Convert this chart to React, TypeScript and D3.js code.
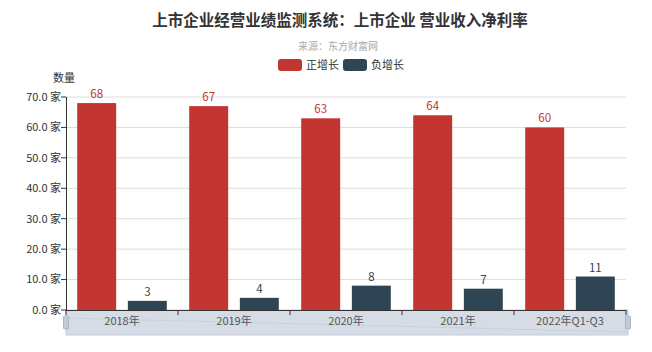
import { useEffect, useRef } from 'react';
import * as d3 from 'd3';

const categories = ['2018年', '2019年', '2020年', '2021年', '2022年Q1-Q3'];
const positive = [68, 67, 63, 64, 60];
const negative = [3, 4, 8, 7, 11];
const yTicks = [0, 10, 20, 30, 40, 50, 60, 70];
const seriesNames = ['正增长', '负增长'];

const colors = ['#c23531', '#2f4554'];
const font = '"Microsoft YaHei", "Noto Sans CJK SC", sans-serif';

const App = () => {
  const ref = useRef<SVGSVGElement>(null);

  useEffect(() => {
    if (!ref.current) return;
    const svg = d3.select(ref.current);
    svg.selectAll('*').remove();

    const width = 652;
    const left = 66;
    const right = 626;
    const top = 97;
    const bottom = 310;

    const x = d3.scaleBand<string>().domain(categories).range([left, right]).paddingInner(0).paddingOuter(0);
    const y = d3.scaleLinear().domain([0, 70]).range([bottom, top]);
    const bw = x.bandwidth();
    // echarts style: 20% category gap, 30% bar gap
    const barW = (bw * 0.8) / 2.3;
    const gap = barW * 0.3;

    // title
    svg.append('text')
      .attr('x', width / 2 + 14)
      .attr('y', 26)
      .attr('text-anchor', 'middle')
      .style('font-family', font)
      .style('font-size', '15.5px')
      .style('font-weight', 'bold')
      .style('fill', '#333')
      .text('上市企业经营业绩监测系统：上市企业 营业收入净利率');
    svg.append('text')
      .attr('x', width / 2 + 12)
      .attr('y', 50)
      .attr('text-anchor', 'middle')
      .style('font-family', font)
      .style('font-size', '10px')
      .style('fill', '#aaa')
      .text('来源：东方财富网');

    // legend
    const legend = svg.selectAll('.legend')
      .data(seriesNames)
      .enter()
      .append('g')
      .attr('transform', (d, i) => `translate(${278 + i * 65}, 59)`);
    legend.append('rect')
      .attr('width', 24)
      .attr('height', 12)
      .attr('rx', 3)
      .attr('fill', (d, i) => colors[i]);
    legend.append('text')
      .attr('x', 28)
      .attr('y', 10)
      .style('font-family', font)
      .style('font-size', '11px')
      .style('fill', '#333')
      .text(d => d);

    // grid
    svg.selectAll('line.grid')
      .data(yTicks.slice(1))
      .enter()
      .append('line')
      .attr('x1', left)
      .attr('x2', right)
      .attr('y1', d => y(d))
      .attr('y2', d => y(d))
      .attr('stroke', '#ddd')
      .attr('stroke-width', 1);

    // data zoom slider background
    svg.append('rect')
      .attr('x', left)
      .attr('y', bottom)
      .attr('width', right - left + 2)
      .attr('height', 25)
      .attr('fill', '#d5dce6')
      .attr('stroke', '#c6cdd8');
    svg.append('path')
      .attr('d', `M${left},${bottom + 8} L${right + 2},${bottom + 22}`)
      .attr('stroke', '#c9d1dc')
      .attr('fill', 'none');
    [left, right + 2].forEach(hx => {
      svg.append('rect')
        .attr('x', hx - 2.5)
        .attr('y', bottom + 6)
        .attr('width', 5)
        .attr('height', 13)
        .attr('rx', 1)
        .attr('fill', '#c0cbd8')
        .attr('stroke', '#a7b7cc');
    });

    // y axis
    svg.append('line')
      .attr('x1', left + 0.5)
      .attr('x2', left + 0.5)
      .attr('y1', top)
      .attr('y2', bottom)
      .attr('stroke', '#333');
    const yt = svg.selectAll('g.ytick')
      .data(yTicks)
      .enter()
      .append('g')
      .attr('transform', d => `translate(0, ${y(d)})`);
    yt.append('line')
      .attr('x1', left - 5)
      .attr('x2', left)
      .attr('stroke', '#333');
    yt.append('text')
      .attr('x', left - 5)
      .attr('dy', '0.35em')
      .attr('text-anchor', 'end')
      .style('font-family', font)
      .style('font-size', '11px')
      .style('fill', '#333')
      .text(d => `${d.toFixed(1)}\u00a0家`);
    svg.append('text')
      .attr('x', 64)
      .attr('y', 82)
      .attr('text-anchor', 'middle')
      .style('font-family', font)
      .style('font-size', '11px')
      .style('fill', '#333')
      .text('数量');

    // bars
    const series = [positive, negative];
    series.forEach((vals, si) => {
      const off = bw * 0.1 + si * (barW + gap);
      svg.selectAll(`rect.s${si}`)
        .data(vals)
        .enter()
        .append('rect')
        .attr('x', (d, i) => (x(categories[i]) as number) + off)
        .attr('y', d => y(d))
        .attr('width', barW)
        .attr('height', d => bottom - y(d))
        .attr('fill', colors[si]);
      svg.selectAll(`text.s${si}`)
        .data(vals)
        .enter()
        .append('text')
        .attr('x', (d, i) => (x(categories[i]) as number) + off + barW / 2)
        .attr('y', d => y(d) - 5)
        .attr('text-anchor', 'middle')
        .style('font-family', font)
        .style('font-size', '11.5px')
        .style('fill', colors[si])
        .text(d => d);
    });

    // x axis
    svg.append('line')
      .attr('x1', left)
      .attr('x2', right)
      .attr('y1', bottom + 0.5)
      .attr('y2', bottom + 0.5)
      .attr('stroke', '#333');
    svg.selectAll('line.xtick')
      .data(d3.range(categories.length + 1))
      .enter()
      .append('line')
      .attr('x1', i => left + i * bw)
      .attr('x2', i => left + i * bw)
      .attr('y1', bottom)
      .attr('y2', bottom + 5)
      .attr('stroke', '#333');
    svg.selectAll('text.xlab')
      .data(categories)
      .enter()
      .append('text')
      .attr('x', d => (x(d) as number) + bw / 2)
      .attr('y', bottom + 15)
      .attr('text-anchor', 'middle')
      .style('font-family', font)
      .style('font-size', '11px')
      .style('fill', '#555')
      .text(d => d);
  }, []);

  return (
    <div style={{ width: 652, height: 352, position: 'absolute', left: 0, top: 0 }}>
      <svg ref={ref} width={652} height={352} />
    </div>
  );
};

export default App;
